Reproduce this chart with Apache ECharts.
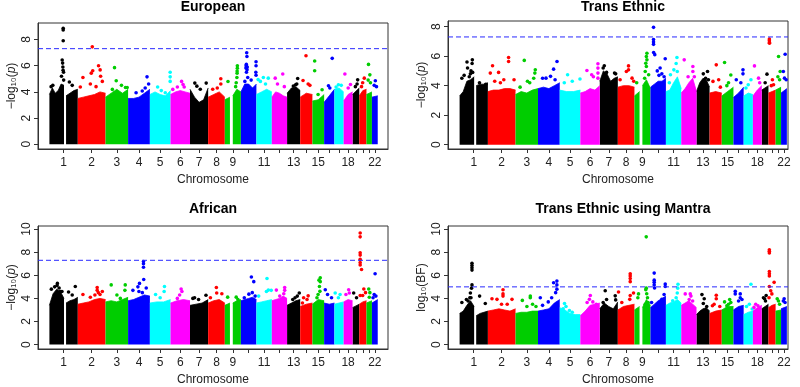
<!DOCTYPE html>
<html><head><meta charset="utf-8">
<script src="https://cdn.jsdelivr.net/npm/echarts@6/dist/echarts.min.js"></script>
<style>html,body{margin:0;padding:0;background:#fff}#c{width:800px;height:387px}</style>
</head><body><div id="c"></div>
<script>
// ---------------- data ----------------
const chromosomes = ['1','2','3','4','5','6','7','8','9','10','11','12','13','14','15','16','17','18','19','20','21','22'];
const chrLengthMb = [249,243,198,191,181,171,159,146,141,136,135,134,115,107,103,90,81,78,59,63,48,51];
const chrGapMb = {1:[128,146], 9:[45,70]};
const labeledChromosomes = [1,2,3,4,5,6,7,8,9,11,13,15,18,22];
const chrColors = ['#000000','#FF0000','#00CD00','#0000FF','#00FFFF','#FF00FF'];
const panelTitles = ['European','Trans Ethnic','African','Trans Ethnic using Mantra'];
const thresholds = [7.3, 7.3, 7.3, 5];
const yTicksA = [0,2,4,6,8];
const yTicksB = [0,2,4,6,8,10];

// height of the dense band of SNPs along each chromosome (null = gap)
const europeanMass = [
 [3.8,4.3,3.9,4.1,4.6,4.5,null,3.7,3.9,4.1,4.2],[3.5,3.6,3.7,3.8,4.0,3.9],[3.6,3.9,4.2,3.9,4.2],[3.5,3.5,3.6,3.9,4.2],
 [3.8,4.0,3.8,3.7,4.1],[3.8,4.0,4.1,4.0,3.9],[4.2,3.6,3.2,3.4,4.3],[3.6,3.8,4.0,3.6],[3.4,3.6,null,3.7,4.2,4.0],
 [4.0,4.6,4.6,4.3,4.6],[3.8,4.0,4.2,4.0],[3.6,4.0,3.9,3.7,3.6],[3.9,4.3,4.4,4.1],[3.6,3.9,3.8],[3.3,3.4,3.8],
 [3.2,3.7,4.2],[4.2,4.3,4.0],[3.3,3.8,4.0],[3.8,4.3],[3.7,4.1,4.2],[3.8,4.0],[3.6,3.7]];
const transMass = [
 [3.3,3.6,4.3,4.4,4.6,null,4.0,4.1,4.1,4.2],[3.6,3.7,3.7,3.8,3.8,3.7],[3.4,3.6,3.5,3.7,3.8],[3.8,3.9,3.8,4.0,4.2],
 [3.7,3.6,3.6,3.7],[3.5,3.6,3.8,3.7,4.0],[4.3,5.0,4.8,4.3,4.5,4.6],[3.9,4.0,4.0,3.9],[3.3,3.6,null,4.0,4.4,3.8],
 [3.9,4.1,4.3,4.3,4.5],[3.6,3.7,4.2,4.6,3.8],[3.5,3.8,4.2,4.5,3.6],[3.6,4.2,4.5,4.4,3.9],[3.5,3.6,3.5],[3.3,3.6,3.9],
 [3.2,3.5,3.9],[3.3,3.5,3.4],[3.3,3.7,4.0],[3.7,4.0],[3.5,3.6,3.7],[3.7,3.9],[3.5,3.8]];
const africanMass = [
 [3.4,4.4,4.8,4.6,4.0,null,3.6,3.8,3.9,4.1],[3.5,3.6,3.7,3.9,4.0,3.9],[3.7,3.8,3.7,3.9,4.1],[3.8,3.9,4.1,4.3,4.2],
 [3.6,3.7,3.7,3.9],[3.6,3.8,3.9,3.8],[3.4,3.5,3.6,3.9],[3.6,3.8,3.9,3.6],[3.4,3.6,null,3.6,3.8,3.9],
 [3.8,3.9,4.0,4.1,3.9],[3.6,3.7,3.8,3.9],[3.8,3.9,4.0,4.2,4.0],[3.4,3.6,3.8,3.9],[3.3,3.5,3.6],[3.5,3.9,3.8],
 [3.6,3.5,3.6],[3.5,3.6,3.7],[3.7,3.9,3.8],[3.2,3.5],[3.5,3.7,3.8],[3.6,3.8],[3.6,3.9]];
const mantraMass = [
 [2.7,2.9,3.4,3.8,3.3,null,2.5,2.7,2.8,2.9],[2.9,3.0,3.1,3.0,2.9,3.1],[2.7,2.8,2.8,2.9,2.9],[2.9,3.0,3.1,3.6,3.9],
 [3.2,3.0,2.7,2.6,2.6],[2.5,2.9,3.4,3.5,3.6],[3.1,3.6,3.3,3.1,3.7],[3.0,3.3,3.4,3.5],[3.0,3.3,null,3.2,3.9,3.4],
 [3.2,3.5,3.8,4.0,4.2],[3.4,3.6,3.7,3.9,3.6],[3.4,3.6,3.8,3.5,3.2],[2.6,2.9,3.1,3.2,2.9],[2.7,2.9,3.0],[3.0,3.3,3.3],
 [3.0,3.3,3.4],[2.6,2.8,2.9],[2.9,3.2,3.4],[3.1,3.5],[3.2,3.4,3.5],[2.9,3.0],[3.1,3.3]];

// individual SNPs standing out of the band: [chromosome, position (Mb), value]
const europeanPoints = [
 [1,121,8.86],[1,121,8.72],[1,121,7.9],[1,112,6.43],[1,116,6.2],[1,118,5.9],[1,120,5.65],[1,124,5.5],[1,106,5.2],[1,125,4.9],[1,30,4.5],[1,15,4.4],[1,175,4.75],[1,200,4.5],
 [2,127,7.44],[2,182,6.0],[2,196,5.68],[2,131,5.62],[2,118,5.43],[2,45,5.1],[2,22,4.37],[2,110,4.6],[2,200,5.2],[2,215,4.8],[2,160,4.4],
 [3,79,5.85],[3,94,4.85],[3,175,4.34],[3,190,4.34],[3,60,4.19],[3,140,4.5],
 [4,166,5.15],[4,124,4.07],[4,70,3.94],[4,150,4.3],[4,180,4.6],
 [5,178,5.5],[5,178,5.15],[5,178,4.8],[5,68,4.37],[5,135,3.94],[5,100,4.1],
 [6,97,4.8],[6,60,4.37],[6,120,4.37],[6,110,4.57],[6,20,4.19],
 [7,42,4.67],[7,142,4.67],[7,90,4.2],[7,60,4.44],
 [8,111,5.0],[8,111,4.6],[8,40,4.2],[8,80,4.3],
 [9,28,4.79],[9,110,6.0],[9,110,5.8],[9,108,5.43],[9,108,5.6],[9,106,5.1],[9,100,4.7],[9,95,4.4],
 [10,51,6.99],[10,53,6.7],[10,48,6.1],[10,46,6.0],[10,56,5.9],[10,44,5.83],[10,54,5.7],[10,49,5.5],[10,133,6.3],[10,133,6.0],[10,131,5.5],[10,133,5.27],[10,60,5.1],[10,90,4.9],[10,35,4.8],
 [11,61,5.1],[11,15,4.94],[11,104,5.05],[11,35,4.8],[11,80,4.6],
 [12,96,5.37],[12,30,5.05],[12,50,4.6],[12,110,4.4],
 [13,93,5.02],[13,75,4.54],[13,55,4.45],[13,85,4.6],
 [14,51,6.76],[14,25,4.87],[14,85,4.5],[14,70,4.6],
 [15,20,6.36],[15,20,5.62],[15,85,4.16],[15,50,3.8],
 [16,71,6.56],[16,38,4.47],[16,50,4.3],
 [17,35,4.54],[17,60,4.5],[17,15,4.37],
 [18,11,5.37],[18,60,4.57],[18,40,4.3],
 [19,45,4.92],[19,40,4.6],[19,25,4.4],
 [20,44,5.05],[20,30,4.7],[20,20,4.4],
 [21,18,6.1],[21,30,5.3],[21,15,4.9],[21,35,4.7],
 [22,30,4.85],[22,20,4.5],[22,40,4.4]];
const transPoints = [
 [1,65,5.6],[1,112,5.75],[1,110,5.5],[1,70,5.2],[1,100,5.0],[1,115,4.9],[1,40,4.7],[1,20,4.5],[1,95,4.8],[1,85,4.6],[1,175,4.2],[1,230,4.1],
 [2,182,5.91],[2,182,5.64],[2,41,5.35],[2,94,4.9],[2,21,4.85],[2,230,4.4],[2,140,4.4],[2,60,4.3],[2,110,4.2],
 [3,77,5.71],[3,174,5.08],[3,170,4.85],[3,105,4.3],[3,125,4.2],[3,40,3.9],[3,160,4.5],
 [4,167,5.64],[4,137,5.12],[4,110,4.63],[4,70,4.51],[4,40,4.5],[4,150,4.4],
 [5,69,4.74],[5,178,4.45],[5,110,4.3],[5,40,4.2],
 [6,155,5.48],[6,155,5.19],[6,155,4.85],[6,155,4.51],[6,58,5.03],[6,100,4.74],[6,115,4.6],
 [7,40,5.35],[7,30,5.2],[7,130,4.85],[7,140,4.8],[7,60,4.9],
 [8,94,5.34],[8,94,5.07],[8,75,4.96],[8,125,4.51],[8,20,4.4],[8,140,4.3],
 [9,110,6.2],[9,105,5.97],[9,110,5.75],[9,100,5.52],[9,105,5.3],[9,95,4.96],[9,125,4.74],[9,90,4.5],[9,20,4.2],
 [10,27,7.95],[10,27,7.12],[10,27,6.95],[10,27,6.8],[10,28,6.25],[10,38,6.1],[10,130,5.82],[10,85,5.2],[10,60,5.0],[10,100,4.8],[10,120,4.6],[10,75,4.7],
 [11,97,5.91],[11,90,5.5],[11,70,5.07],[11,100,4.96],[11,40,4.74],[11,30,4.2],
 [12,26,5.75],[12,102,5.3],[12,102,4.96],[12,115,4.6],[12,60,4.6],
 [13,97,4.96],[13,60,4.8],[13,105,4.4],[13,80,4.5],
 [14,59,5.41],[14,30,4.29],[14,80,4.4],[14,95,3.9],
 [15,25,5.57],[15,80,4.72],[15,60,4.2],[15,45,4.0],
 [16,84,5.07],[16,84,4.8],[16,25,4.4],[16,65,4.2],
 [17,64,4.4],[17,40,4.06],[17,20,3.84],
 [18,14,5.34],[18,50,4.51],[18,60,4.2],
 [19,46,4.78],[19,30,4.2],
 [20,8,7.16],[20,8,7.05],[20,9,6.93],[20,9,6.87],[20,35,4.4],[20,45,4.06],[20,25,4.0],
 [21,26,5.98],[21,40,4.96],[21,20,4.6],[21,35,4.4],
 [22,36,6.13],[22,20,4.96],[22,30,4.51],[22,45,4.4]];
const africanPoints = [
 [1,70,5.3],[1,67,5.12],[1,46,5.0],[1,85,4.9],[1,95,4.6],[1,17,4.8],[1,110,4.6],[1,168,4.56],[1,227,5.03],[1,200,4.3],
 [2,170,4.94],[2,170,4.7],[2,180,4.5],[2,195,4.34],[2,215,4.6],[2,45,4.34],[2,110,4.1],[2,150,4.3],
 [3,50,5.17],[3,173,5.17],[3,170,4.7],[3,100,4.3],[3,130,4.0],
 [4,135,7.2],[4,135,7.0],[4,135,6.7],[4,137,5.64],[4,100,5.3],[4,86,5.0],[4,42,4.7],[4,95,4.6],[4,159,4.9],[4,125,4.5],
 [5,128,5.03],[5,125,4.6],[5,50,4.34],[5,90,4.06],
 [6,93,4.81],[6,100,4.6],[6,80,4.3],[6,60,4.0],
 [7,40,4.06],[7,75,3.9],[7,25,4.0],[7,140,4.28],
 [8,72,4.94],[8,75,4.47],[8,120,4.4],[8,20,4.06],
 [9,25,4.11],[9,100,4.11],[9,115,3.9],
 [10,92,5.86],[10,113,5.45],[10,70,4.37],[10,100,4.5],[10,30,4.06],[10,125,4.2],
 [11,93,5.72],[11,105,4.72],[11,88,4.6],[11,20,4.2],[11,130,4.7],
 [12,113,4.94],[12,113,4.7],[12,105,4.4],[12,40,4.72],[12,70,4.2],
 [13,107,4.47],[13,90,4.2],[13,50,3.9],[13,70,4.06],
 [14,30,4.06],[14,60,3.9],[14,20,3.6],[14,70,4.22],
 [15,69,5.78],[15,58,5.58],[15,69,5.45],[15,62,5.03],[15,66,4.61],[15,50,4.34],[15,40,4.06],
 [16,10,4.75],[16,30,4.34],[16,65,4.06],
 [17,7,4.47],[17,50,4.34],[17,35,4.06],
 [18,44,4.75],[18,20,4.34],[18,50,4.47],
 [19,10,4.47],[19,35,4.06],
 [20,8,9.67],[20,8,9.33],[20,8,7.95],[20,8,7.75],[20,8,7.39],[20,8,7.1],[20,8,6.9],[20,20,6.5],[20,8,4.25],[20,40,4.81],[20,55,4.5],[20,30,4.25],
 [21,20,4.81],[21,30,4.5],[21,25,4.1],
 [22,28,6.14],[22,20,4.33],[22,35,4.2],[22,10,4.06]];
const mantraPoints = [
 [1,109,7.05],[1,109,6.85],[1,109,6.65],[1,109,6.45],[1,109,5.17],[1,105,4.89],[1,95,4.47],[1,90,4.06],[1,75,3.78],[1,100,4.06],[1,20,3.64],[1,176,4.2],[1,226,3.56],[1,60,3.9],
 [2,133,4.75],[2,133,4.39],[2,133,4.2],[2,36,3.97],[2,80,3.92],[2,212,3.92],[2,170,3.5],[2,120,3.5],
 [3,130,4.2],[3,130,4.06],[3,60,3.83],[3,150,3.5],[3,100,3.3],[3,180,3.3],
 [4,166,5.5],[4,137,5.36],[4,166,5.17],[4,166,4.8],[4,155,4.5],[4,120,4.06],[4,90,3.7],[4,20,4.06],[4,40,3.4],
 [5,42,3.56],[5,55,3.3],[5,30,3.1],[5,85,2.95],[5,110,2.8],
 [6,88,4.25],[6,80,3.92],[6,60,3.64],[6,110,3.7],[6,140,3.5],
 [7,48,4.67],[7,136,4.22],[7,140,3.87],[7,60,3.9],[7,30,3.64],
 [8,109,6.14],[8,109,5.95],[8,109,5.72],[8,109,5.45],[8,109,4.25],[8,105,3.92],[8,35,3.64],[8,6,4.56],[8,138,4.47],
 [9,36,4.39],[9,30,4.06],[9,104,9.33],[9,104,4.89],[9,100,4.75],[9,108,4.4],[9,115,4.06],[9,120,3.64],[9,95,3.5],
 [10,33,6.19],[10,33,5.58],[10,33,5.39],[10,33,5.17],[10,36,4.9],[10,130,5.25],[10,130,5.03],[10,120,4.34],[10,100,3.92],[10,10,3.64],
 [11,106,5.22],[11,104,4.89],[11,100,4.47],[11,90,4.06],[11,60,3.8],
 [12,79,4.39],[12,85,4.2],[12,35,4.39],[12,70,3.9],[12,100,3.78],
 [13,48,4.33],[13,68,3.97],[13,60,3.56],[13,90,3.3],
 [14,59,4.28],[14,59,3.97],[14,40,3.5],[14,90,3.3],[14,25,3.36],
 [15,25,3.7],[15,60,3.5],[15,80,3.64],[15,45,3.36],[15,70,3.9],
 [16,16,4.61],[16,16,4.39],[16,60,4.39],[16,60,4.06],[16,45,3.78],[16,75,3.9],
 [17,64,5.22],[17,50,3.5],[17,25,3.3],[17,75,3.08],
 [18,25,3.5],[18,45,3.36],[18,10,3.22],
 [19,39,4.25],[19,25,3.97],[19,15,4.06],[19,33,3.78],
 [20,8,8.22],[20,8,8.08],[20,8,7.94],[20,8,6.33],[20,8,6.14],[20,8,5.95],[20,8,5.03],[20,50,5.39],[20,20,4.67],[20,30,4.39],[20,5,4.06],
 [21,14,3.97],[21,25,3.78],[21,35,3.5],
 [22,27,3.97],[22,35,3.64],[22,20,3.78]];

// ---------------- chart ----------------
const FONT = '"Liberation Sans", Arial, Helvetica, sans-serif';
const LINE_BLUE = '#2a2aff';
const cum = [];
chrLengthMb.reduce((s, l, i) => { cum[i] = s; return s + l; }, 0);
const mids = chrLengthMb.map((l, i) => cum[i] + l / 2);
const labeledMids = labeledChromosomes.map(c => mids[c - 1]);
function chrLabel(v) {
  let best = 0;
  mids.forEach((m, i) => { if (Math.abs(m - v) < Math.abs(mids[best] - v)) best = i; });
  return chromosomes[best];
}

const panels = [
  {mass: europeanMass, pts: europeanPoints, grid:{left:38, top:23, width:350, height:126}, xr:[-100,2969], yr:[-0.36,9.26], ticks:yTicksA, yname:'−log₁₀({i|p})', tx:213, ty:0},
  {mass: transMass, pts: transPoints, grid:{left:448, top:21, width:340, height:128}, xr:[-102,2889], yr:[-0.29,8.38], ticks:yTicksA, yname:'−log₁₀({i|p})', tx:623, ty:0},
  {mass: africanMass, pts: africanPoints, grid:{left:38, top:226, width:350, height:127}, xr:[-100,2969], yr:[-0.38,10.27], ticks:yTicksB, yname:'−log₁₀({i|p})', tx:213, ty:202},
  {mass: mantraMass, pts: mantraPoints, grid:{left:448, top:226, width:340, height:127}, xr:[-102,2889], yr:[-0.38,10.27], ticks:yTicksB, yname:'log₁₀(BF)', tx:623, ty:202}
];

function massSeries(mass, gi) {
  const byColor = chrColors.map(() => []);
  mass.forEach((vals, i) => {
    const off = cum[i], len = chrLengthMb[i], gap = chrGapMb[i + 1];
    const k = vals.indexOf(null);
    const segs = k >= 0 ? [[0, gap[0], vals.slice(0, k)], [gap[1], len, vals.slice(k + 1)]] : [[0, len, vals]];
    const arr = byColor[i % 6];
    segs.forEach(([a, b, h]) => {
      if (arr.length) arr.push([off + a, '-']);
      h.forEach((v, j) => arr.push([off + a + (b - a) * j / (h.length - 1), v]));
    });
  });
  return byColor.map((data, ci) => ({
    type: 'line', xAxisIndex: gi, yAxisIndex: gi, data, symbol: 'none', silent: true,
    connectNulls: false, lineStyle: {width: 0.8, color: chrColors[ci]},
    itemStyle: {color: chrColors[ci]},
    areaStyle: {color: chrColors[ci], opacity: 1}, z: 2
  }));
}

const option = {
  animation: false,
  backgroundColor: '#fff',
  title: panels.map((p, i) => ({text: panelTitles[i], left: p.tx, top: p.ty, textAlign: 'center', padding: 0,
    textStyle: {fontSize: 14, fontWeight: 'bold', color: '#000', fontFamily: FONT}})),
  grid: panels.map(p => Object.assign({show: true, borderColor: '#333', borderWidth: 1, backgroundColor: 'transparent'}, p.grid)),
  xAxis: panels.map((p, i) => ({
    type: 'value', gridIndex: i, min: p.xr[0], max: p.xr[1],
    axisLine: {show: true, onZero: false, lineStyle: {color: '#333'}},
    axisTick: {show: true, customValues: mids, length: 4, lineStyle: {color: '#333'}},
    axisLabel: {customValues: labeledMids, formatter: chrLabel, margin: 8, fontSize: 12, color: '#222', fontFamily: FONT},
    splitLine: {show: false},
    name: 'Chromosome', nameLocation: 'middle', nameGap: 25,
    nameTextStyle: {fontSize: 12, color: '#222', fontFamily: FONT}
  })),
  yAxis: panels.map((p, i) => ({
    type: 'value', gridIndex: i, min: p.yr[0], max: p.yr[1],
    axisLine: {show: true, onZero: false, lineStyle: {color: '#333'}},
    axisTick: {show: true, customValues: p.ticks, length: 4, lineStyle: {color: '#333'}},
    axisLabel: {customValues: p.ticks, rotate: 90, margin: 5, fontSize: 12, color: '#222', fontFamily: FONT},
    splitLine: {show: false},
    name: p.yname, nameLocation: 'middle', nameRotate: 90, nameGap: 20,
    nameTextStyle: {fontSize: 12, color: '#222', fontFamily: FONT, rich: {i: {fontStyle: 'italic', fontSize: 12, color: '#222', fontFamily: FONT}}}
  })),
  series: []
};

panels.forEach((p, i) => {
  option.series.push(...massSeries(p.mass, i));
  option.series.push({
    type: 'scatter', xAxisIndex: i, yAxisIndex: i, symbolSize: 3.6, silent: true, z: 3,
    data: p.pts.map(([c, pos, v]) => [cum[c - 1] + pos, v, c]),
    itemStyle: {color: prm => chrColors[(prm.data[2] - 1) % 6], opacity: 1}
  });
  // significance threshold drawn across the whole panel
  option.series.push({
    type: 'line', xAxisIndex: i, yAxisIndex: i, silent: true, z: 4, symbol: 'none',
    data: [[p.xr[0], thresholds[i]], [p.xr[1], thresholds[i]]],
    itemStyle: {color: LINE_BLUE},
    lineStyle: {color: LINE_BLUE, type: [5, 3], width: 1}
  });
});

const chart = echarts.init(document.getElementById('c'), null, {renderer: 'canvas'});
chart.setOption(option);
</script>
</body></html>
